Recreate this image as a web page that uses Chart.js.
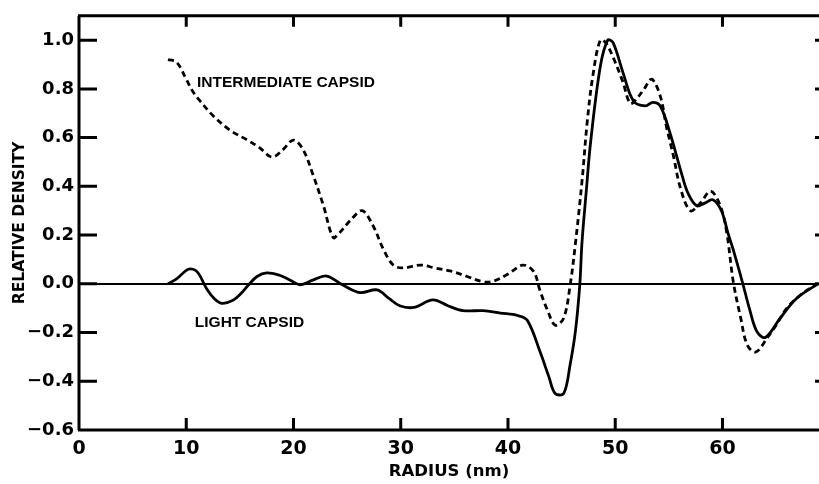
<!DOCTYPE html>
<html>
<head>
<meta charset="utf-8">
<script src="https://cdn.jsdelivr.net/npm/chart.js@4.4.1/dist/chart.umd.min.js"></script>
<style>
  html, body { margin: 0; padding: 0; background: #fff; }
  #wrap { width: 819px; height: 484px; position: relative; }
</style>
</head>
<body>
<div id="wrap"><canvas id="density-chart"></canvas></div>
<script>
// light capsid (solid)
const radiusLight = [8.3, 9.1, 10.2, 11.0, 11.9, 12.6, 13.3, 14.4, 15.1, 15.8, 16.6, 17.5, 18.7, 19.7, 20.6, 21.8, 23.1, 24.6, 26.2, 27.8, 28.9, 29.9, 31.2, 33.0, 34.4, 35.8, 37.7, 39.3, 40.9, 41.8, 43.0, 43.8, 44.4, 45.2, 45.8, 46.3, 46.7, 46.9, 47.3, 47.7, 48.6, 49.3, 49.8, 50.7, 51.7, 52.8, 53.5, 54.2, 55.1, 56.2, 56.8, 57.6, 58.3, 59.1, 59.9, 60.5, 61.0, 61.9, 62.5, 63.2, 64.0, 65.4, 66.9, 68.9];
const densityLight = [0.0, 0.02, 0.06, 0.05, -0.02, -0.06, -0.08, -0.066, -0.04, -0.005, 0.03, 0.045, 0.035, 0.015, -0.004, 0.015, 0.032, -0.005, -0.036, -0.025, -0.06, -0.09, -0.097, -0.066, -0.09, -0.11, -0.11, -0.12, -0.13, -0.15, -0.28, -0.38, -0.45, -0.45, -0.33, -0.19, 0.0, 0.17, 0.38, 0.58, 0.89, 1.0, 0.99, 0.87, 0.75, 0.73, 0.745, 0.73, 0.62, 0.45, 0.37, 0.32, 0.33, 0.345, 0.30, 0.21, 0.14, 0.0, -0.1, -0.195, -0.22, -0.14, -0.06, 0.0];

// intermediate capsid (dashed)
const radiusInter = [8.3, 9.1, 10.0, 10.6, 11.3, 12.5, 14.1, 15.7, 16.8, 18.0, 19.0, 20.0, 20.9, 21.8, 22.8, 23.7, 24.3, 25.3, 26.4, 27.4, 28.4, 29.3, 30.2, 31.8, 33.2, 34.6, 36.2, 37.7, 38.6, 40.0, 41.4, 42.4, 43.0, 43.7, 44.4, 45.2, 45.8, 46.3, 46.9, 47.4, 47.9, 48.6, 49.1, 49.8, 50.7, 51.4, 52.0, 52.7, 53.4, 54.2, 54.8, 55.4, 56.1, 57.0, 57.9, 58.9, 59.8, 60.4, 61.0, 61.7, 62.3, 63.1, 64.2, 65.0, 66.0, 67.3, 68.8];
const densityInter = [0.92, 0.91, 0.84, 0.79, 0.75, 0.69, 0.63, 0.59, 0.56, 0.52, 0.55, 0.59, 0.55, 0.45, 0.32, 0.19, 0.21, 0.26, 0.30, 0.24, 0.14, 0.077, 0.065, 0.077, 0.065, 0.053, 0.03, 0.008, 0.01, 0.04, 0.077, 0.05, -0.03, -0.11, -0.17, -0.14, -0.004, 0.17, 0.42, 0.67, 0.85, 1.0, 0.99, 0.93, 0.83, 0.74, 0.76, 0.80, 0.84, 0.77, 0.64, 0.53, 0.39, 0.30, 0.33, 0.38, 0.32, 0.21, 0.01, -0.14, -0.25, -0.28, -0.22, -0.17, -0.10, -0.045, 0.0];

const yTickValues = [-0.6, -0.4, -0.2, 0.0, 0.2, 0.4, 0.6, 0.8, 1.0];
const xTickValues = [0, 10, 20, 30, 40, 50, 60];

const toPoints = (xs, ys) => xs.map((x, i) => ({ x: x, y: ys[i] }));
const near = (v, list) => list.some(t => Math.abs(t - v) < 1e-6);

// frame, inward tick marks and curve labels
const framePlugin = {
    id: 'frame',
    afterDatasetsDraw(chart) {
        const { ctx, chartArea: a, scales } = chart;
        const x = scales.x, y = scales.y;
        ctx.save();
        ctx.strokeStyle = '#000';
        ctx.lineWidth = 3;
        ctx.beginPath();
        ctx.moveTo(a.left - 1, a.top);
        ctx.lineTo(a.right, a.top);
        ctx.moveTo(a.left, a.top);
        ctx.lineTo(a.left, a.bottom);
        ctx.moveTo(a.left - 1, a.bottom);
        ctx.lineTo(a.right, a.bottom);
        xTickValues.forEach(v => {
            if (v === 0) return;
            const px = x.getPixelForValue(v);
            ctx.moveTo(px, a.bottom);
            ctx.lineTo(px, a.bottom - 12);
            ctx.moveTo(px, a.top);
            ctx.lineTo(px, a.top + 11);
        });
        yTickValues.forEach(v => {
            const py = y.getPixelForValue(v);
            ctx.moveTo(a.left, py);
            ctx.lineTo(a.left + 18, py);
            ctx.moveTo(a.right - 4, py);
            ctx.lineTo(a.right, py);
        });
        ctx.stroke();

        ctx.fillStyle = '#000';
        ctx.font = 'bold 15.5px "Liberation Sans"';
        ctx.textBaseline = 'middle';
        ctx.textAlign = 'left';
        ctx.fillText('INTERMEDIATE CAPSID', x.getPixelForValue(11.0), y.getPixelForValue(0.825));
        ctx.fillText('LIGHT CAPSID', x.getPixelForValue(10.8), y.getPixelForValue(-0.16));
        ctx.restore();
    }
};

const ctx = document.getElementById('density-chart').getContext('2d');

const densityChart = new Chart(ctx, {
    type: 'line',
    data: {
        datasets: [
            {
                label: 'LIGHT CAPSID',
                data: toPoints(radiusLight, densityLight),
                borderColor: '#000',
                borderWidth: 2.8,
                pointRadius: 0,
                tension: 0.35,
                fill: false
            },
            {
                label: 'INTERMEDIATE CAPSID',
                data: toPoints(radiusInter, densityInter),
                borderColor: '#000',
                borderWidth: 2.8,
                borderDash: [6, 4],
                pointRadius: 0,
                tension: 0.35,
                fill: false
            }
        ]
    },
    options: {
        responsive: true,
        maintainAspectRatio: false,
        animation: false,
        layout: { padding: { top: 9, right: 0, left: 0, bottom: 0 } },
        plugins: {
            legend: { display: false },
            tooltip: { enabled: false }
        },
        scales: {
            x: {
                type: 'linear',
                min: 0,
                max: 69,
                afterBuildTicks: s => { s.ticks = s.ticks.filter(t => near(t.value, xTickValues)); },
                afterFit: s => { s.height = 54; },
                grid: { display: false, drawTicks: false },
                border: { display: false },
                ticks: {
                    stepSize: 10,
                    padding: 8,
                    color: '#000',
                    maxRotation: 0,
                    font: { family: 'DejaVu Sans', weight: 'bold', size: 19 }
                },
                title: {
                    display: true,
                    text: 'RADIUS (nm)',
                    color: '#000',
                    font: { family: 'DejaVu Sans', weight: 'bold', size: 16.5 },
                    padding: { top: 0, bottom: 2 }
                }
            },
            y: {
                min: -0.6,
                max: 1.1,
                afterBuildTicks: s => { s.ticks = s.ticks.filter(t => near(t.value, yTickValues)); },
                afterFit: s => { s.width = 79; },
                grid: {
                    drawTicks: false,
                    color: c => (c.tick && Math.abs(c.tick.value) < 1e-6) ? '#000' : 'rgba(0,0,0,0)',
                    lineWidth: 2
                },
                border: { display: false },
                ticks: {
                    stepSize: 0.2,
                    padding: 5,
                    color: '#000',
                    font: { family: 'DejaVu Sans', weight: 'bold', size: 18 },
                    callback: v => (v < -1e-6 ? '\u2212' : '') + Math.abs(v).toFixed(1)
                },
                title: {
                    display: true,
                    text: 'RELATIVE DENSITY',
                    color: '#000',
                    font: { family: 'DejaVu Sans', weight: 'bold', size: 15.5 },
                    padding: { top: 11, bottom: 0 }
                }
            }
        }
    },
    plugins: [framePlugin]
});
</script>
</body>
</html>
